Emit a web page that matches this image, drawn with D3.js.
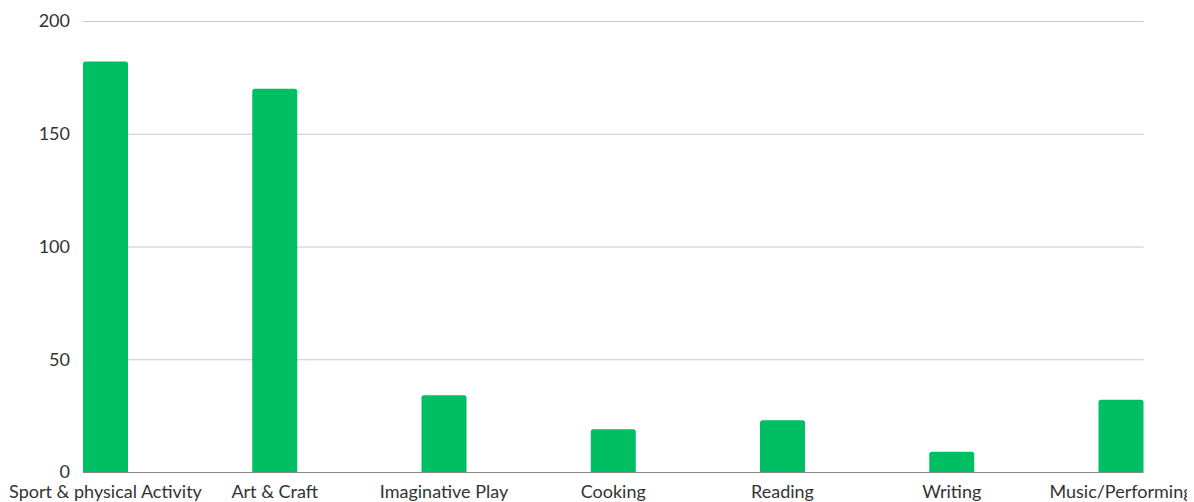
<!DOCTYPE html>
<html>
<head>
<meta charset="utf-8">
<script src="https://cdn.jsdelivr.net/npm/d3@7"></script>
<style>
  html, body { margin: 0; padding: 0; background: #fff; overflow: hidden; }
  svg { display: block; }
  text { font-family: Lato, "Open Sans", sans-serif; }
</style>
</head>
<body>
<div id="chart"></div>
<script>
const categories = ["Sport & physical Activity", "Art & Craft", "Imaginative Play", "Cooking", "Reading", "Writing", "Music/Performing"];
const values = [182, 170, 34, 19, 23, 9, 32];
const yTicks = [0, 50, 100, 150, 200];

const W = 1187, H = 502;
const x0 = 83, yTop = 21, yBase = 472;
const step = 169.25, bw = 45;

const svg = d3.select("#chart").append("svg").attr("width", W).attr("height", H);

const x = d3.scaleBand().domain(categories)
  .range([x0, x0 + step * (categories.length - 1) + bw])
  .paddingInner(1 - bw / step).paddingOuter(0);
const y = d3.scaleLinear().domain([0, 200]).range([yBase, yTop]);
const xEnd = x0 + step * (categories.length - 1) + bw;

// gridlines
svg.append("g").selectAll("line").data(yTicks.filter(d => d > 0)).join("line")
  .attr("x1", x0).attr("x2", xEnd)
  .attr("y1", d => y(d) + 0.5).attr("y2", d => y(d) + 0.5)
  .attr("stroke", "#c8c8c8").attr("stroke-width", 1);

// y labels
svg.append("g").selectAll("text").data(yTicks).join("text")
  .attr("x", 70).attr("y", d => y(d)).attr("dy", "0.35em")
  .attr("text-anchor", "end").attr("font-size", 18).attr("fill", "#333")
  .text(d => d);

// bars with rounded top corners
const r = 2.5;
svg.append("g").selectAll("path").data(categories).join("path")
  .attr("fill", "#00bf63")
  .attr("d", (c, i) => {
    const xl = x(c), xr = x(c) + x.bandwidth(), yt = y(values[i]), yb = y(0);
    return `M${xl},${yb}V${yt + r}Q${xl},${yt} ${xl + r},${yt}H${xr - r}Q${xr},${yt} ${xr},${yt + r}V${yb}Z`;
  });

// baseline
svg.append("line").attr("x1", x0).attr("x2", xEnd)
  .attr("y1", yBase + 0.5).attr("y2", yBase + 0.5)
  .attr("stroke", "#888").attr("stroke-width", 1);

// x labels
svg.append("g").selectAll("text").data(categories).join("text")
  .attr("x", c => x(c) + x.bandwidth() / 2).attr("y", 498)
  .attr("text-anchor", "middle").attr("font-size", 18).attr("fill", "#333")
  .text(c => c);
</script>
</body>
</html>
